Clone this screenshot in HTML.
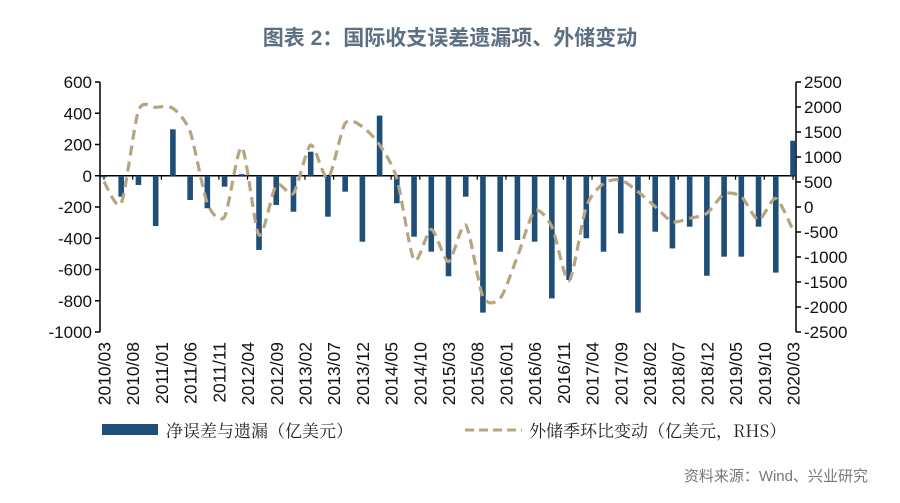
<!DOCTYPE html>
<html><head><meta charset="utf-8"><style>
html,body{margin:0;padding:0;background:#fff;}
svg text{font-family:"Liberation Sans","Noto Sans CJK SC",sans-serif;}
</style></head><body>
<svg id="chart" width="900" height="498" viewBox="0 0 900 498" xmlns="http://www.w3.org/2000/svg">
<text x="450" y="45" text-anchor="middle" font-size="21" font-weight="bold" fill="#5d7083">图表 2：国际收支误差遗漏项、外储变动</text>
<g id="grid"></g>
<g id="bars"></g>
<path id="line" fill="none" stroke="#b8a57f" stroke-width="3.2" stroke-dasharray="10,6"/>
<g id="xlabels"></g>
<g>
<rect x="102" y="424" width="56" height="11" fill="#1f4e79"/>
<text x="166" y="437" font-size="17" fill="#222" style="font-family:'Noto Serif CJK SC',serif">净误差与遗漏（亿美元）</text>
<line x1="465" y1="430" x2="522" y2="430" stroke="#b8a57f" stroke-width="3" stroke-dasharray="9,5"/>
<text x="529" y="437" font-size="17" fill="#222" style="font-family:'Noto Serif CJK SC',serif">外储季环比变动（亿美元，RHS）</text>
</g>
<text x="868" y="481" text-anchor="end" font-size="15" fill="#777">资料来源：Wind、兴业研究</text>
</svg>
<script>
const quarters = ["2010/03","2010/06","2010/09","2010/12","2011/03","2011/06","2011/09","2011/12","2012/03","2012/06","2012/09","2012/12","2013/03","2013/06","2013/09","2013/12","2014/03","2014/06","2014/09","2014/12","2015/03","2015/06","2015/09","2015/12","2016/03","2016/06","2016/09","2016/12","2017/03","2017/06","2017/09","2017/12","2018/03","2018/06","2018/09","2018/12","2019/03","2019/06","2019/09","2019/12","2020/03"];
const errorsOmissions = [-10,-134,-59,-322,297,-155,-208,-70,10,-475,-187,-230,154,-262,-102,-422,385,-176,-390,-486,-643,-134,-876,-486,-411,-422,-785,-667,-400,-486,-369,-876,-358,-465,-326,-640,-518,-518,-326,-620,224];
const reserveChange = [507,73,1927,1993,1973,1507,73,-193,1193,-560,440,273,1240,573,1673,1607,1240,573,-1060,-447,-1093,-360,-1793,-1827,-993,-80,-393,-1473,7,473,540,307,7,-293,-227,-127,260,207,-260,173,-460];
const leftTicks = [600,400,200,0,-200,-400,-600,-800,-1000];
const rightTicks = [2500,2000,1500,1000,500,0,-500,-1000,-1500,-2000,-2500];
const xLabels = ["2010/03","2010/08","2011/01","2011/06","2011/11","2012/04","2012/09","2013/02","2013/07","2013/12","2014/05","2014/10","2015/03","2015/08","2016/01","2016/06","2016/11","2017/04","2017/09","2018/02","2018/07","2018/12","2019/05","2019/10","2020/03"];

const NS="http://www.w3.org/2000/svg";
const L=100,R=796,T=82,B=332;
const yL=v=>T+(600-v)/1600*(B-T);
const yR=v=>T+(2500-v)/5000*(B-T);
const monthIdx=s=>{const [y,m]=s.split("/").map(Number);return (y-2010)*12+(m-3);};
const xM=i=>104+i*(793-104)/120;
function mk(tag,attrs,parent){const e=document.createElementNS(NS,tag);for(const k in attrs)e.setAttribute(k,attrs[k]);parent.appendChild(e);return e;}
const grid=document.getElementById("grid");
let e;
e=mk("line",{x1:L,y1:T,x2:L,y2:B,stroke:"#000","stroke-width":1.5},grid);


e=mk("line",{x1:R,y1:T,x2:R,y2:B,stroke:"#000","stroke-width":1.5},grid);


leftTicks.forEach(v=>{
  mk("line",{x1:L-5,y1:yL(v),x2:L,y2:yL(v),stroke:"#000","stroke-width":1.5},grid);
  const t=mk("text",{x:L-8,y:yL(v)+6,"text-anchor":"end","font-size":17,fill:"#111"},grid);
  t.textContent=v;
  
  
});
rightTicks.forEach(v=>{
  mk("line",{x1:R,y1:yR(v),x2:R+5,y2:yR(v),stroke:"#000","stroke-width":1.5},grid);
  const t=mk("text",{x:R+8,y:yR(v)+6,"text-anchor":"start","font-size":17,fill:"#111"},grid);
  t.textContent=v;
  
  
});
const bars=document.getElementById("bars");
quarters.forEach((q,i)=>{
  const x=xM(monthIdx(q)),v=errorsOmissions[i];
  const y0=yL(0),y1=yL(v);
  const r=mk("rect",{x:x-2.8,y:Math.min(y0,y1),width:5.6,height:Math.abs(y1-y0),fill:"#1f4e79"},bars);
  
  
});
e=mk("line",{x1:L,y1:yL(0),x2:R,y2:yL(0),stroke:"#000","stroke-width":1.5},grid);


const xl=document.getElementById("xlabels");
xLabels.forEach(s=>{
  const x=xM(monthIdx(s));
  mk("line",{x1:x,y1:yL(0),x2:x,y2:yL(0)+4,stroke:"#000","stroke-width":1.2},grid);
  const t=mk("text",{transform:`translate(${x+6.5},342) rotate(-90)`,"text-anchor":"end","font-size":17.5,fill:"#111"},xl);
  t.textContent=s;
  
  
});
const pts=quarters.map((q,i)=>[xM(monthIdx(q)),yR(reserveChange[i])]);
let d=`M${pts[0][0]},${pts[0][1]}`;
for(let i=0;i<pts.length-1;i++){
  const p0=pts[Math.max(0,i-1)],p1=pts[i],p2=pts[i+1],p3=pts[Math.min(pts.length-1,i+2)];
  const k=8;
  const c1=[p1[0]+(p2[0]-p0[0])/k,p1[1]+(p2[1]-p0[1])/k];
  const c2=[p2[0]-(p3[0]-p1[0])/k,p2[1]-(p3[1]-p1[1])/k];
  d+=` C${c1[0]},${c1[1]} ${c2[0]},${c2[1]} ${p2[0]},${p2[1]}`;
}
document.getElementById("line").setAttribute("d",d);
</script>
</body></html>
